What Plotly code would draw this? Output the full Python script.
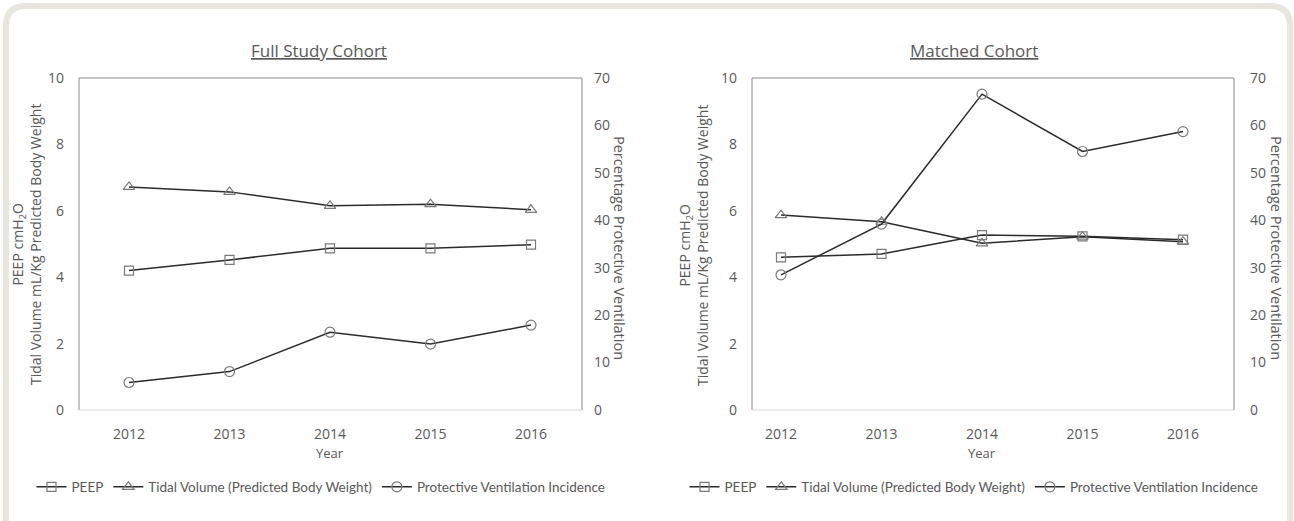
import plotly.graph_objects as go

# ---------------- data ----------------
years = ["2012", "2013", "2014", "2015", "2016"]
full_peep = [4.2, 4.52, 4.87, 4.87, 4.98]
full_tidal = [6.72, 6.57, 6.15, 6.2, 6.03]
full_protective = [5.8, 8.1, 16.4, 13.9, 17.9]
matched_peep = [4.6, 4.7, 5.27, 5.23, 5.13]
matched_tidal = [5.87, 5.67, 5.02, 5.22, 5.07]
matched_protective = [28.5, 39.2, 66.6, 54.5, 58.7]
series_names = ["PEEP", "Tidal Volume (Predicted Body Weight)", "Protective Ventilation Incidence"]
panel_titles = ["Full Study Cohort", "Matched Cohort"]
left_title = "PEEP cmH<sub>2</sub>O<br>Tidal Volume mL/Kg Predicted Body Weight"
right_title = "Percentage Protective Ventilation"

W, H = 1294, 521
def px(x):
    return x / W
def py(y):
    return 1 - y / H

TXT = "#595959"
FONT = "Open Sans"
LEG_FONT = "Lato"
LINE_C = "#2b2b2b"
MARK_C = "#7a7a7a"

fig = go.Figure()

panels = [
    dict(peep=full_peep, tidal=full_tidal, prot=full_protective, xa="x", ya="y", ya2="y2",
         legend="legend", box=(79, 582), first=129, last=531),
    dict(peep=matched_peep, tidal=matched_tidal, prot=matched_protective, xa="x2", ya="y3", ya2="y4",
         legend="legend2", box=(752, 1234), first=781, last=1183),
]

for p in panels:
    common = dict(mode="lines+markers", line=dict(color=LINE_C, width=1.5), xaxis=p["xa"], legend=p["legend"])
    fig.add_trace(go.Scatter(x=years, y=p["peep"], name=series_names[0], yaxis=p["ya"],
                             marker=dict(symbol="square-open", size=9, color=MARK_C, line=dict(width=1.2)), **common))
    fig.add_trace(go.Scatter(x=years, y=p["tidal"], name=series_names[1], yaxis=p["ya"],
                             marker=dict(symbol="triangle-up-open", size=10, color=MARK_C, line=dict(width=1.2)), **common))
    fig.add_trace(go.Scatter(x=years, y=p["prot"], name=series_names[2], yaxis=p["ya2"],
                             marker=dict(symbol="circle-open", size=10, color=MARK_C, line=dict(width=1.2)), **common))

y_dom = [py(410), py(78)]
tickfont = dict(family=FONT, size=14, color=TXT)

def xrange_for(p):
    x0, x1 = p["box"]
    step = (p["last"] - p["first"]) / 4
    return [-(p["first"] - x0) / step, 4 + (x1 - p["last"]) / step]

for i, p in enumerate(panels):
    sfx = "" if i == 0 else "2"
    xa_name = "xaxis" + sfx
    ya_name = "yaxis" + ("" if i == 0 else "3")
    ya2_name = "yaxis" + ("2" if i == 0 else "4")
    fig.layout[xa_name] = dict(domain=[px(p["box"][0]), px(p["box"][1])], anchor=p["ya"],
                               type="category", range=xrange_for(p), showgrid=False, zeroline=False,
                               showline=False, ticks="", tickfont=tickfont, ticklabelstandoff=14,
                               automargin=False)
    fig.layout[ya_name] = dict(domain=y_dom, anchor=p["xa"], range=[0, 10], dtick=2, showgrid=False,
                               zeroline=False, showline=False, ticks="", tickfont=tickfont,
                               ticklabelstandoff=14, automargin=False)
    fig.layout[ya2_name] = dict(domain=y_dom, anchor=p["xa"], overlaying=p["ya"], side="right",
                                range=[0, 70], dtick=10, showgrid=False, zeroline=False, showline=False,
                                ticks="", tickfont=tickfont, ticklabelstandoff=11 if i == 0 else 15,
                                automargin=False)

shapes = []
# outer rounded frame
fx0, fy0, fx1, fy1, r = 6, 6, W - 4, H + 30, 20
path = (f"M {px(fx0)} {py(fy0 + r)} "
        f"Q {px(fx0)} {py(fy0)} {px(fx0 + r)} {py(fy0)} "
        f"L {px(fx1 - r)} {py(fy0)} "
        f"Q {px(fx1)} {py(fy0)} {px(fx1)} {py(fy0 + r)} "
        f"L {px(fx1)} {py(fy1)} L {px(fx0)} {py(fy1)} Z")
shapes.append(dict(type="path", xref="paper", yref="paper", path=path,
                   line=dict(color="#e8e5de", width=6), fillcolor="rgba(0,0,0,0)", layer="below"))
for p in panels:
    x0, x1 = p["box"]
    for (a, b, c, d, col) in [(x0, 78, x1, 78, "#8c8c8c"), (x0, 78, x0, 410, "#8c8c8c"),
                              (x1, 78, x1, 410, "#8c8c8c"), (x0, 410, x1, 410, "#d9d9d9")]:
        shapes.append(dict(type="line", xref="paper", yref="paper", x0=px(a), y0=py(b), x1=px(c), y1=py(d),
                           line=dict(color=col, width=1), layer="below"))

ann = []
title_x = [319, 974]
left_title_x = [27, 694]
right_title_x = [620, 1277]
for i, p in enumerate(panels):
    x0, x1 = p["box"]
    ann.append(dict(text="<u>" + panel_titles[i] + "</u>", x=px(title_x[i]), y=py(50), xref="paper", yref="paper",
                    showarrow=False, font=dict(family=FONT, size=17, color=TXT), xanchor="center", yanchor="middle"))
    ann.append(dict(text="Year", x=px((p["first"] + p["last"]) / 2), y=py(453), xref="paper", yref="paper",
                    showarrow=False, font=dict(family=FONT, size=13, color=TXT), xanchor="center", yanchor="middle"))
    ann.append(dict(text=left_title, x=px(left_title_x[i]), y=py(245), xref="paper", yref="paper", textangle=-90,
                    showarrow=False, font=dict(family=FONT, size=14, color=TXT), xanchor="center", yanchor="middle"))
    ann.append(dict(text=right_title, x=px(right_title_x[i]), y=py(248), xref="paper", yref="paper", textangle=90,
                    showarrow=False, font=dict(family=FONT, size=14.5, color=TXT), xanchor="center", yanchor="middle"))

leg_common = dict(orientation="h", xref="paper", yref="paper", yanchor="middle", xanchor="center",
                  font=dict(family=LEG_FONT, size=13.5, color=TXT), bgcolor="rgba(0,0,0,0)",
                  itemwidth=30, tracegroupgap=0)
fig.update_layout(
    template="none",
    width=W, height=H, margin=dict(l=0, r=0, t=0, b=0, pad=0, autoexpand=False),
    paper_bgcolor="white", plot_bgcolor="rgba(0,0,0,0)",
    shapes=shapes, annotations=ann, showlegend=True,
    legend=dict(x=px(321), y=py(487), **leg_common),
    legend2=dict(x=px(974), y=py(487), **leg_common),
)

post = ("document.body.style.margin='0';document.body.style.overflow='hidden';"
        "var d=document.getElementById('{plot_id}');d.style.position='fixed';"
        "d.style.left='0px';d.style.top='0px';")
fig.write_html("out.html", post_script=post, config={"displayModeBar": False})
